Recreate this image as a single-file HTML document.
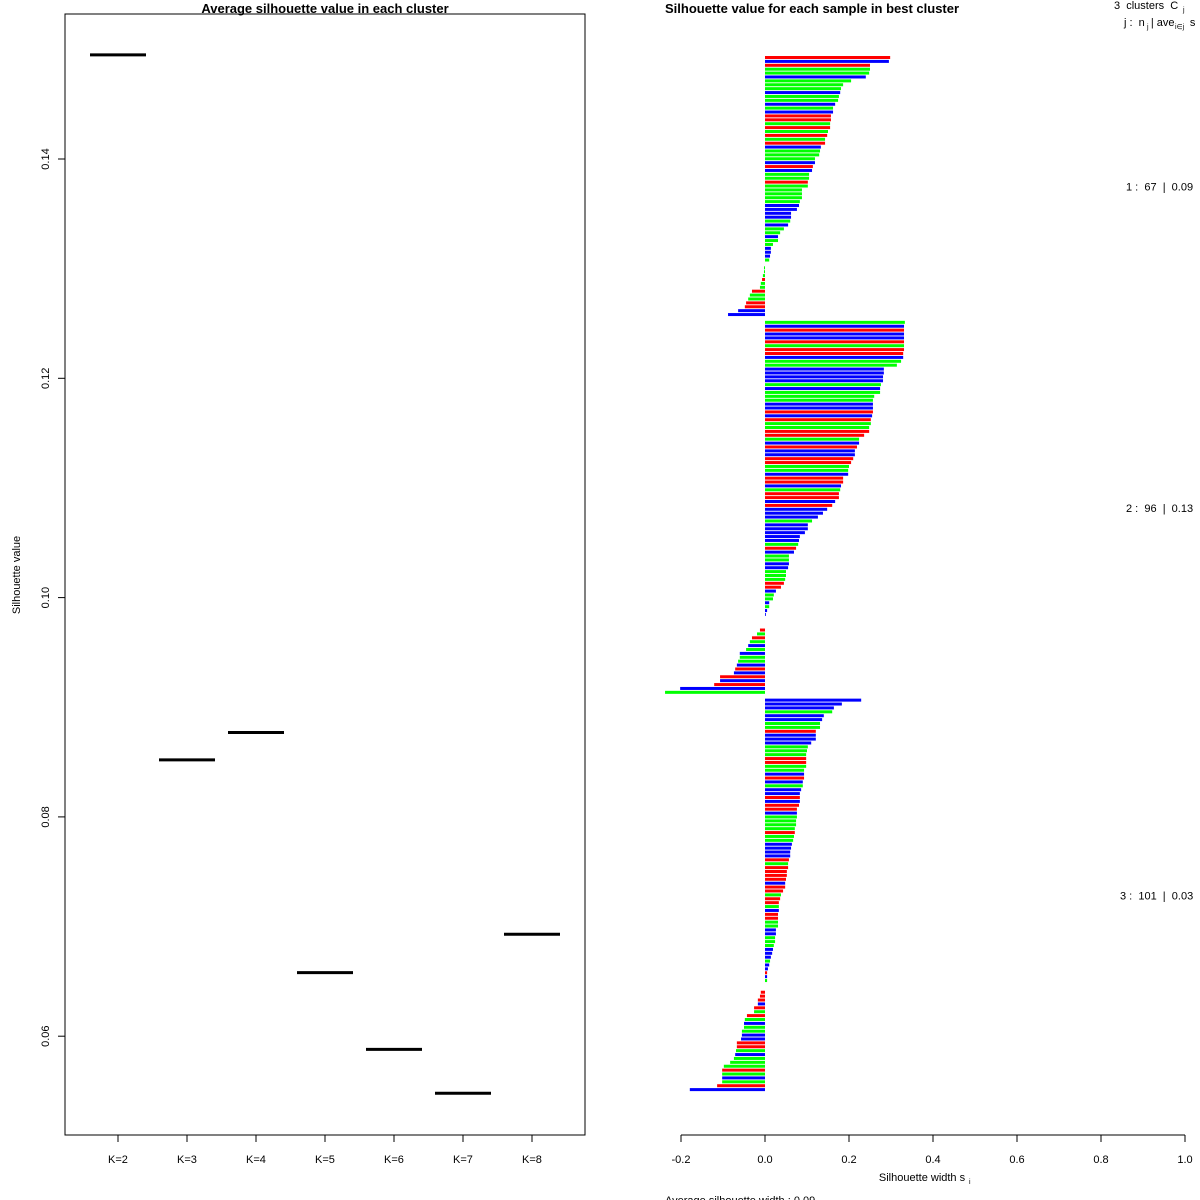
<!DOCTYPE html>
<html><head><meta charset="utf-8"><style>
html,body{margin:0;padding:0;background:#fff;}
svg{display:block;font-family:"Liberation Sans",sans-serif;}
text{white-space:pre;}
</style></head><body>
<svg id="chart" width="1200" height="1200" viewBox="0 0 1200 1200">
<rect x="0" y="0" width="1200" height="1200" fill="#fff"/>
<g id="left"></g>
<g id="right"></g>
</svg>
<script>
const kLabels=["K=2","K=3","K=4","K=5","K=6","K=7","K=8"];
const kValues=[0.1495,0.0852,0.0877,0.0658,0.0588,0.0548,0.0693];
const yTicks=[0.06,0.08,0.10,0.12,0.14];
const yTickLabels=["0.06","0.08","0.10","0.12","0.14"];

const c1Values=[.298,.295,.25,.25,.248,.24,.205,.186,.181,.179,.176,.174,.167,.162,.162,.157,.157,.155,.155,.15,.148,.143,.143,.133,.131,.129,.119,.119,.114,.112,.105,.105,.102,.102,.088,.088,.088,.083,.081,.076,.062,.062,.06,.055,.045,.036,.031,.031,.019,.014,.014,.012,.01,0,-.0024,-.0024,-.005,-.007,-.01,-.012,-.031,-.036,-.04,-.045,-.048,-.064,-.088];
const c1Colors="RBRGGBGGGBGGBGBRRGRGRGRBGGGBRBGGRGGGGGBBBBGBGGBGGBBBGGGGGRGGRGGRRBB";
const c2Values=[.333,.331,.331,.331,.331,.331,.331,.331,.329,.329,.324,.314,.283,.283,.281,.281,.276,.274,.274,.26,.257,.257,.257,.257,.255,.252,.252,.248,.248,.236,.224,.224,.219,.214,.214,.21,.205,.2,.198,.198,.186,.186,.181,.179,.176,.176,.167,.16,.148,.138,.126,.112,.102,.102,.095,.083,.081,.079,.074,.069,.057,.057,.057,.055,.05,.05,.048,.045,.038,.026,.021,.019,.01,.01,.005,.002,0,0,0,-.012,-.019,-.031,-.036,-.04,-.045,-.06,-.06,-.064,-.067,-.071,-.074,-.107,-.107,-.121,-.202,-.238];
const c2Colors="GBRBBRGRRBGGBBBBGBGGGBBRBRGGRRGBRBBRRGGBRRBGRRBRBBBGBBBBBGRBGGBBGGGRRBGGBGBBBBBRGRGBGBGGBRBRBRBG";
const c3Values=[.229,.183,.164,.16,.14,.136,.131,.131,.121,.121,.121,.11,.102,.1,.098,.098,.098,.098,.093,.093,.093,.09,.09,.086,.083,.083,.083,.081,.076,.076,.076,.074,.074,.071,.071,.069,.067,.064,.062,.06,.06,.057,.055,.055,.052,.052,.05,.048,.048,.043,.038,.036,.033,.033,.033,.031,.031,.031,.031,.026,.026,.024,.024,.021,.019,.017,.014,.012,.01,.007,.005,.005,.005,0,0,-.01,-.012,-.017,-.017,-.026,-.026,-.043,-.048,-.05,-.05,-.055,-.055,-.057,-.067,-.067,-.069,-.071,-.074,-.083,-.098,-.102,-.102,-.102,-.102,-.114,-.179];
const c3Colors="BBBGBBGGRBBBGGGRRGGBRBGBBRBRRBGGGGRGGBBBBRGRRRRBRRGRRGBRRGGBBGGGBBBGBBRBGBBRRRBRGRGBGGBBRRGBGGGRGBGRB";
const xTicks=[-0.2,0,0.2,0.4,0.6,0.8,1.0];
const xTickLabels=["-0.2","0.0","0.2","0.4","0.6","0.8","1.0"];
const clusterLabels=["1 :  67  |  0.09","2 :  96  |  0.13","3 :  101  |  0.03"];

const NS="http://www.w3.org/2000/svg";
function mk(parent,tag,attrs,text){const e=document.createElementNS(NS,tag);for(const k in attrs)e.setAttribute(k,attrs[k]);if(text!==undefined)e.textContent=text;parent.appendChild(e);return e;}
const L=document.getElementById('left'),R=document.getElementById('right');

const yScale=v=>159+(0.14-v)/0.02*219.3;
const kX=i=>118+i*69;
let e=mk(L,'rect',{x:65,y:14,width:520,height:1121,fill:'none',stroke:'#000','stroke-width':1});


e=mk(L,'text',{x:325,y:13,'font-size':13,'font-weight':'bold','text-anchor':'middle'},"Average silhouette value in each cluster");


e=mk(L,'text',{x:20,y:575,'font-size':11,'text-anchor':'middle',transform:'rotate(-90 20 575)'},"Silhouette value");


yTicks.forEach((t,i)=>{const y=yScale(t);
  e=mk(L,'line',{x1:58,x2:65,y1:y,y2:y,stroke:'#000'});
  
  
  e=mk(L,'text',{x:49,y:y,'font-size':11,'text-anchor':'middle',transform:`rotate(-90 49 ${y})`},yTickLabels[i]);
  
  
});
kLabels.forEach((lab,i)=>{const x=kX(i);
  e=mk(L,'line',{x1:x,x2:x,y1:1135,y2:1142,stroke:'#000'});
  
  
  e=mk(L,'text',{x:x,y:1163,'font-size':11,'text-anchor':'middle'},lab);
  
  
  const y=yScale(kValues[i]);
  e=mk(L,'line',{x1:x-28,x2:x+28,y1:y,y2:y,stroke:'#000','stroke-width':3});
  
  
});

const xScale=v=>765+v*420;
const colorMap={R:'#ff0000',G:'#00ff00',B:'#0000ff'};
const step=1036/266;
let slot=0;
const clusters=[[c1Values,c1Colors],[c2Values,c2Colors],[c3Values,c3Colors]];
clusters.forEach((cl,ci)=>{
  const startSlot=slot;
  cl[0].forEach((v,i)=>{
    const y=56+slot*step;
    const x0=xScale(Math.min(0,v)),x1=xScale(Math.max(0,v));
    if(Math.abs(v)>0){
      e=mk(R,'rect',{x:x0,y:y,width:x1-x0,height:3,fill:colorMap[cl[1][i]]||'#00ff00'});
      
      
    }
    slot++;
  });
  const midY=56+(startSlot+slot)/2*step;
  e=mk(R,'text',{x:ci===2?1120:1126,y:midY+4,'font-size':11},clusterLabels[ci]);
  
  
  slot++;
});
e=mk(R,'line',{x1:681,x2:1185,y1:1135,y2:1135,stroke:'#000'});


xTicks.forEach((t,i)=>{const x=xScale(t);
  e=mk(R,'line',{x1:x,x2:x,y1:1135,y2:1142,stroke:'#000'});
  
  
  e=mk(R,'text',{x:x,y:1163,'font-size':11,'text-anchor':'middle'},xTickLabels[i]);
  
  
});
e=mk(R,'text',{x:665,y:13,'font-size':13,'font-weight':'bold'},"Silhouette value for each sample in best cluster");


e=mk(R,'text',{x:922,y:1181,'font-size':11,'text-anchor':'middle'},"Silhouette width s");


mk(R,'text',{x:969,y:1184,'font-size':7},"i");
e=mk(R,'text',{x:665,y:1204,'font-size':11},"Average silhouette width : 0.09");


e=mk(R,'text',{x:1114,y:9,'font-size':11},"3  clusters  C");


mk(R,'text',{x:1183,y:12,'font-size':7},"j");
e=mk(R,'text',{x:1124,y:26,'font-size':11},"j :  n  | ave     s");


mk(R,'text',{x:1147,y:29,'font-size':7},"j");
mk(R,'text',{x:1175,y:29,'font-size':7},"i∈j");
</script>
</body></html>
